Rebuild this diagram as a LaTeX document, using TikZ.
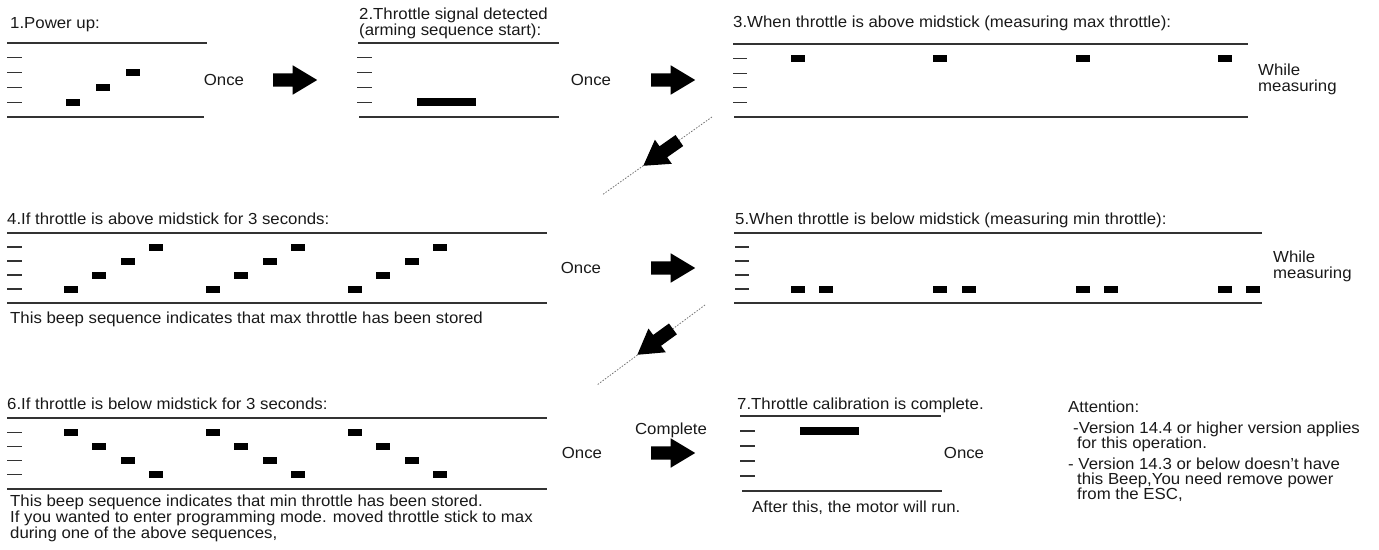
\documentclass[tikz,border=0pt]{standalone}
\usepackage{fontspec}
\setmainfont{Liberation Sans}[FakeStretch=1.05]
\usetikzlibrary{shapes.arrows}

\begin{document}
\begin{tikzpicture}[x=1pt, y=-1pt,
    rule/.style={line width=1.6pt, black!80},
    tick/.style={line width=1.2pt, black!80},
    beep/.style={fill=black},
    txt/.style={inner sep=0pt, anchor=base west, align=left, text=black!90,
                font=\fontsize{16}{14}\selectfont},
    mid/.style={inner sep=0pt, text=black!90, font=\fontsize{16}{14}\selectfont},
    fatarrow/.style={single arrow, fill=black, draw=none,
                inner xsep=0pt, inner ysep=6.5pt,
                minimum height=44pt, minimum width=29pt,
                single arrow head extend=8pt, single arrow tip angle=62},
    guide/.style={black!55, line width=0.8pt, dash pattern=on 1.5pt off 1.5pt}]
    \useasboundingbox (0,0) rectangle (1379,549);

    % step 1
    \node[txt] (title1) at (10,28) {1.Power up:};
    \draw[rule] (7,43) -- (207,43);
    \draw[rule] (7,117) -- (204,117);
    \foreach \i in {1,...,4}
        \draw[tick] (7,{43+14.8*\i}) -- ++(15,0);
    \foreach \i in {0,1,2}
        \fill[beep] ({66+30*\i},{102.2-14.8*\i-3.5}) rectangle ++(14,7);
    \node[mid] (once1) at (224,80) {Once};
    \node[fatarrow, anchor=tail] (go12) at (273,80) {};

    % step 2 (base = last line)
    \node[txt, font=\fontsize{16}{15.5}\selectfont] (title2) at (359,35)
        {2.Throttle signal detected\\(arming sequence start):};
    \draw[rule] (358,43) -- (559,43);
    \draw[rule] (359,117) -- (559,117);
    \foreach \i in {1,...,4}
        \draw[tick] (357,{43+14.8*\i}) -- ++(15,0);
    \fill[beep] (417,98) rectangle (476,106);
    \node[mid] (once2) at (591,80) {Once};
    \node[fatarrow, anchor=tail] (go23) at (651,80) {};

    % step 3
    \node[txt] (title3) at (733,27)
        {3.When throttle is above midstick (measuring max throttle):};
    \draw[rule] (733,44) -- (1248,44);
    \draw[rule] (734,117) -- (1248,117);
    \foreach \i in {1,...,4}
        \draw[tick] (733,{44+14.6*\i}) -- ++(14,0);
    \foreach \k in {0,...,3}
        \fill[beep] ({791+142.3*\k},{58.6-3.5}) rectangle ++(14,7);
    \node[txt, font=\fontsize{16}{16}\selectfont] (wait3) at (1258,91)
        {While\\measuring};

    % 3 -> 4
    \coordinate (cut1a) at (712,117);
    \coordinate (cut1b) at (602,195);
    \draw[guide] (cut1a) -- (cut1b);
    \node[fatarrow, anchor=tip, rotate=215] (go34) at (643,166) {};

    % step 4
    \node[txt] (title4) at (7,224) {4.If throttle is above midstick for 3 seconds:};
    \draw[rule] (7,233) -- (547,233);
    \draw[rule] (7,303) -- (547,303);
    \foreach \i in {1,...,4}
        \draw[tick] (7,{233+14*\i}) -- ++(15,0);
    \foreach \k in {0,1,2}
        \foreach \i in {0,...,3}
            \fill[beep] ({64+142*\k+28.4*\i},{289-14*\i-3.5}) rectangle ++(14,7);
    \node[txt] (note4) at (10,323)
        {This beep sequence indicates that max throttle has been stored};
    \node[mid] (once4) at (581,268) {Once};
    \node[fatarrow, anchor=tail] (go45) at (651,268) {};

    % step 5
    \node[txt] (title5) at (735,224)
        {5.When throttle is below midstick (measuring min throttle):};
    \draw[rule] (734,233) -- (1262,233);
    \draw[rule] (734,303) -- (1262,303);
    \foreach \i in {1,...,4}
        \draw[tick] (735,{233+14*\i}) -- ++(14,0);
    \foreach \k in {0,...,3}
        \foreach \d in {0,28.4}
            \fill[beep] ({791+142.3*\k+\d},{289-3.5}) rectangle ++(14,7);
    \node[txt, font=\fontsize{16}{16}\selectfont] (wait5) at (1273,278)
        {While\\measuring};

    % 5 -> 6
    \coordinate (cut2a) at (705,305);
    \coordinate (cut2b) at (597,385);
    \draw[guide] (cut2a) -- (cut2b);
    \node[fatarrow, anchor=tip, rotate=216] (go56) at (637,355) {};

    % step 6
    \node[txt] (title6) at (7,409) {6.If throttle is below midstick for 3 seconds:};
    \draw[rule] (7,418) -- (547,418);
    \draw[rule] (7,489) -- (547,489);
    \foreach \i in {1,...,4}
        \draw[tick] (7,{418+14.2*\i}) -- ++(15,0);
    \foreach \k in {0,1,2}
        \foreach \i in {0,...,3}
            \fill[beep] ({64+142*\k+28.4*\i},{432.2+14.2*\i-3.5}) rectangle ++(14,7);
    \node[txt, font=\fontsize{16}{14}\selectfont] (note6) at (10,538)
        {This beep sequence indicates that min throttle has been stored.\\
         If you wanted to enter programming mode. moved throttle stick to max\\
         during one of the above sequences,};
    \node[mid] (once6) at (582,453) {Once};
    \node[mid] (done) at (671,430) {Complete};
    \node[fatarrow, anchor=tail] (go67) at (651,453) {};

    % step 7
    \node[txt] (title7) at (737,409) {7.Throttle calibration is complete.};
    \draw[rule] (740,416) -- (941,416);
    \draw[rule] (742,491) -- (942,491);
    \foreach \i in {1,...,4}
        \draw[tick] (740,{416+15*\i}) -- ++(15,0);
    \fill[beep] (800,427) rectangle (859,435);
    \node[mid] (once7) at (964,453) {Once};
    \node[txt] (note7) at (752,512) {After this, the motor will run.};

    % attention
    \node[txt] (att0) at (1068,412) {Attention:};
    \node[txt] (att1) at (1073,433) {-Version 14.4 or higher version applies};
    \node[txt] (att2) at (1077,448) {for this operation.};
    \node[txt] (att3) at (1068,469) {- Version 14.3 or below doesn’t have};
    \node[txt] (att4) at (1077,484) {this Beep,You need remove power};
    \node[txt] (att5) at (1077,499) {from the ESC,};
\end{tikzpicture}
\end{document}
